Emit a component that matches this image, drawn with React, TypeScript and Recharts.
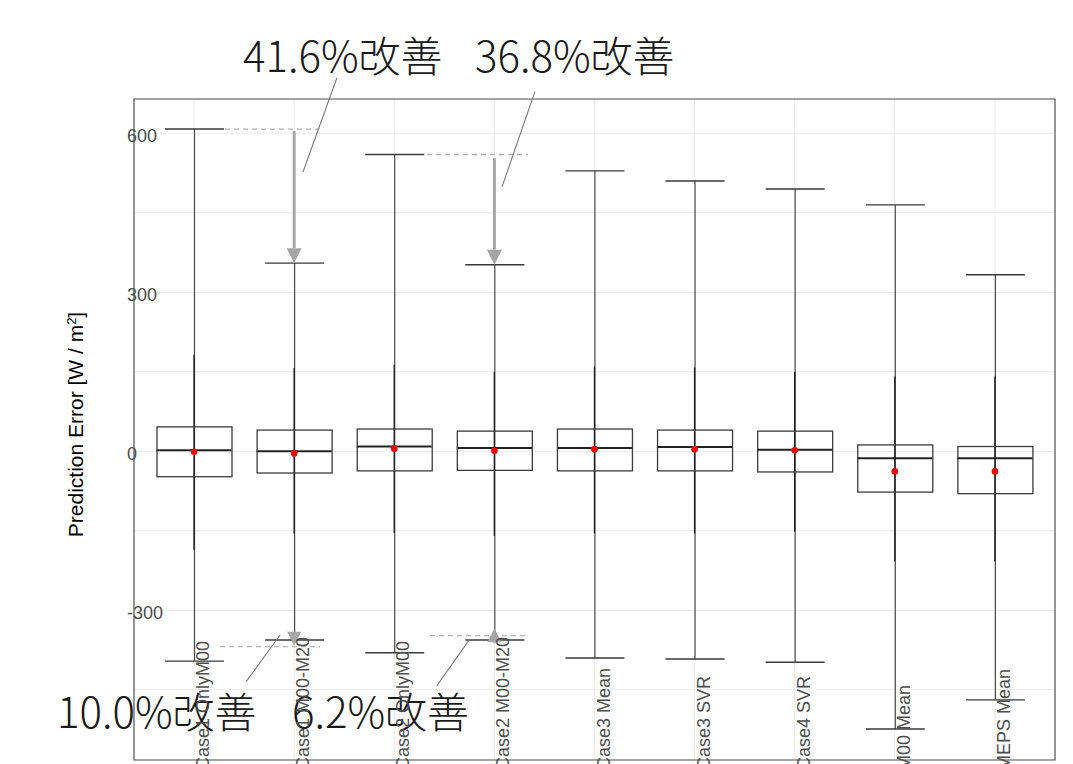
import React from 'react';
import {
  ComposedChart,
  Bar,
  Scatter,
  XAxis,
  YAxis,
  CartesianGrid,
  ReferenceLine,
  ReferenceDot,
  ReferenceArea,
} from 'recharts';

// ---------- data ----------
const categories = [
  'Case1 OnlyM00',
  'Case1 M00-M20',
  'Case2 OnlyM00',
  'Case2 M00-M20',
  'Case3 Mean',
  'Case3 SVR',
  'Case4 SVR',
  'M00 Mean',
  'MEPS Mean',
];
const maxValues = [608, 355, 560, 352, 529, 510, 495, 465, 333];
const minValues = [-396, -356, -380, -356, -390, -392, -398, -524, -469];
const upperWhisker = [182, 157, 163, 150, 160, 158, 150, 141, 141];
const lowerWhisker = [-186, -155, -154, -160, -155, -155, -152, -208, -208];
const q3Values = [46, 40, 42, 38, 42, 40, 38, 12, 9];
const q1Values = [-48, -41, -37, -36, -37, -37, -39, -77, -80];
const medianValues = [2, 0, 9, 6, 6, 8, 3, -13, -13];
const meanValues = [-1, -4, 5, 1, 4, 4, 2, -38, -38];

const yMajorTicks = [-300, 0, 300, 600];
const yMinorTicks = [-450, -150, 150, 450];
const yDomain: [number, number] = [-582.5, 664.7];
const xNumDomain: [number, number] = [0.4, 9.6];

const improvementLabels = ['41.6%改善', '36.8%改善', '10.0%改善', '6.2%改善'];

const data = categories.map((name, i) => ({
  name,
  idx: i + 1,
  min: minValues[i],
  max: maxValues[i],
  wlo: lowerWhisker[i],
  whi: upperWhisker[i],
  q1: q1Values[i],
  q3: q3Values[i],
  median: medianValues[i],
  mean: meanValues[i],
}));

// annotation geometry (in data units of the numeric x axis / y axis)
const textAnnotations = [
  { x: 1.489, y: 715, text: improvementLabels[0] },
  { x: 3.806, y: 715, text: improvementLabels[1] },
  { x: -0.369, y: -522, text: improvementLabels[2] },
  { x: 1.978, y: -522, text: improvementLabels[3] },
];
const dashedLines = [
  { x1: 1.309, x2: 2.238, y: maxValues[0] },
  { x1: 3.327, x2: 4.335, y: maxValues[2] },
  { x1: 1.259, x2: 2.258, y: -368.7 },
  { x1: 3.357, x2: 4.336, y: -348 },
];
const leaderLines = [
  { x1: 2.427, y1: 704.9, x2: 2.088, y2: 527 },
  { x1: 4.405, y1: 678.5, x2: 4.076, y2: 499 },
  { x1: 1.859, y1: -346.6, x2: 1.52, y2: -434.7 },
  { x1: 3.756, y1: -354, x2: 3.424, y2: -442.8 },
];
const arrows = [
  { x: 2, from: maxValues[0] - 4, to: maxValues[1], head: 15 },
  { x: 4, from: 553, to: maxValues[3], head: 15 },
  { x: 2, from: minValues[1], to: -367, head: 14 },
  { x: 4, from: -362, to: -334, head: 14 },
];

// ---------- styles ----------
const SANS = '"Liberation Sans", Arial, Helvetica, sans-serif';
const JP = '"Noto Sans CJK JP", "Noto Sans CJK SC", sans-serif';

// ---------- shapes ----------
const ErrorBarShape = (p: any) => {
  const { x, y, width, height } = p;
  const cx = x + width / 2;
  const top = Math.min(y, y + height);
  const bottom = Math.max(y, y + height);
  return (
    <g>
      <line x1={cx} x2={cx} y1={top} y2={bottom} stroke="#4a4a4a" strokeWidth={1.2} />
      <line x1={x} x2={x + width} y1={top} y2={top} stroke="#3a3a3a" strokeWidth={1.4} />
      <line x1={x} x2={x + width} y1={bottom} y2={bottom} stroke="#3a3a3a" strokeWidth={1.4} />
    </g>
  );
};

const WhiskerShape = (p: any) => {
  const { x, y, width, height } = p;
  const cx = x + width / 2;
  const top = Math.min(y, y + height);
  const bottom = Math.max(y, y + height);
  return <line x1={cx} x2={cx} y1={top} y2={bottom} stroke="#1e1e1e" strokeWidth={1.3} />;
};

const BoxShape = (p: any) => {
  const { x, y, width, height } = p;
  const top = Math.min(y, y + height);
  const h = Math.abs(height);
  return <rect x={x} y={top} width={width} height={h} fill="none" stroke="#3c3c3c" strokeWidth={1.3} />;
};

const MedianShape = (p: any) => {
  const { cx, cy } = p;
  return <line x1={cx - 37.5} x2={cx + 37.5} y1={cy} y2={cy} stroke="#222" strokeWidth={2} />;
};

const MeanShape = (p: any) => {
  const { cx, cy } = p;
  return <circle cx={cx} cy={cy} r={3.3} fill="#ff0000" />;
};

const renderXTick = (p: any) => {
  const { x, payload } = p;
  return (
    <text
      transform={`translate(${x + 15}, 762) rotate(-90)`}
      textAnchor="start"
      fontSize={18}
      fill="#4d4d4d"
      fontFamily={SANS}
    >
      {payload.value}
    </text>
  );
};

const renderYTick = (p: any) => {
  const { y, payload } = p;
  if (!yMajorTicks.includes(payload.value)) return <g />;
  return (
    <text x={119} y={y + 3} dominantBaseline="central" textAnchor="start" fontSize={18} fill="#4d4d4d" fontFamily={SANS}>
      {payload.value}
    </text>
  );
};

const renderYTitle = (p: any) => {
  const vb = p && p.viewBox ? p.viewBox : { y: 91, height: 661 };
  const cy = vb.y + vb.height / 2 - 5;
  return (
    <text transform={`translate(75, ${cy}) rotate(-90)`} textAnchor="middle" fontSize={21} fill="#000" fontFamily={SANS}>
      Prediction Error [W / m
      <tspan baselineShift="super" fontSize={13}>
        2
      </tspan>
      ]
    </text>
  );
};

const arrowShape = (head: number) => (p: any) => {
  const { x1, y1, x2, y2 } = p;
  const dx = x2 - x1;
  const dy = y2 - y1;
  const len = Math.hypot(dx, dy) || 1;
  const ux = dx / len;
  const uy = dy / len;
  const hw = head / 2;
  const bx = x2 - ux * head;
  const by = y2 - uy * head;
  const pts = `${x2},${y2} ${bx - uy * hw},${by + ux * hw} ${bx + uy * hw},${by - ux * hw}`;
  return (
    <g>
      {len > head && <line x1={x1} y1={y1} x2={bx} y2={by} stroke="#a6a6a6" strokeWidth={3} />}
      <polygon points={pts} fill="#a6a6a6" />
    </g>
  );
};

const dashedShape = (p: any) => (
  <line x1={p.x1} y1={p.y1} x2={p.x2} y2={p.y2} stroke="#b3b3b3" strokeWidth={1.3} strokeDasharray="5 4" />
);

const leaderShape = (p: any) => (
  <line x1={p.x1} y1={p.y1} x2={p.x2} y2={p.y2} stroke="#7a7a7a" strokeWidth={1.1} />
);

const makeTextShape = (text: string) => (p: any) => (
  <text x={p.cx} y={p.cy} textAnchor="start" fontSize={42} fontWeight={300} fill="#1a1a1a" fontFamily={JP}>
    {text}
  </text>
);

export default function App() {
  const catAxisProps = {
    type: 'category' as const,
    dataKey: 'name',
    padding: { left: 10, right: 10 },
  };
  return (
    <div style={{ width: 1065, height: 756, background: '#fff' }}>
      <ComposedChart
        width={1065}
        height={756}
        data={data}
        margin={{ top: 91, right: 18, bottom: 3, left: 125 }}
      >
        <XAxis
          xAxisId="b"
          {...catAxisProps}
          height={1}
          axisLine={false}
          tickLine={false}
          interval={0}
          tick={renderXTick}
        />
        <XAxis xAxisId="e" {...catAxisProps} hide />
        <XAxis xAxisId="w" {...catAxisProps} hide />
        <XAxis xAxisId="n" type="number" dataKey="idx" domain={xNumDomain} allowDataOverflow hide />
        <YAxis
          type="number"
          domain={yDomain}
          allowDataOverflow
          ticks={[...yMinorTicks, ...yMajorTicks].sort((a, b) => a - b)}
          width={1}
          axisLine={false}
          tickLine={false}
          tick={renderYTick}
          interval={0}
          label={renderYTitle}
        />
        <CartesianGrid xAxisId="b" stroke="#ebebeb" strokeWidth={1} />

        <Bar
          xAxisId="e"
          dataKey={(d: any) => [d.min, d.max]}
          barSize={59}
          shape={<ErrorBarShape />}
          isAnimationActive={false}
        />
        <Bar
          xAxisId="w"
          dataKey={(d: any) => [d.wlo, d.whi]}
          barSize={10}
          shape={<WhiskerShape />}
          isAnimationActive={false}
        />
        <Bar
          xAxisId="b"
          dataKey={(d: any) => [d.q1, d.q3]}
          barSize={75}
          shape={<BoxShape />}
          isAnimationActive={false}
        />
        <Scatter xAxisId="n" dataKey="median" shape={<MedianShape />} isAnimationActive={false} />
        <Scatter xAxisId="n" dataKey="mean" shape={<MeanShape />} isAnimationActive={false} />

        <ReferenceArea
          xAxisId="n"
          x1={xNumDomain[0]}
          x2={xNumDomain[1]}
          y1={yDomain[0]}
          y2={yDomain[1]}
          fill="none"
          fillOpacity={0}
          stroke="#555"
          strokeWidth={1.2}
          ifOverflow="visible"
        />

        {dashedLines.map((l, i) => (
          <ReferenceLine
            key={`d${i}`}
            xAxisId="n"
            segment={[
              { x: l.x1, y: l.y },
              { x: l.x2, y: l.y },
            ]}
            ifOverflow="visible"
            shape={dashedShape}
          />
        ))}
        {arrows.map((a, i) => (
          <ReferenceLine
            key={`a${i}`}
            xAxisId="n"
            segment={[
              { x: a.x, y: a.from },
              { x: a.x, y: a.to },
            ]}
            ifOverflow="visible"
            shape={arrowShape(a.head)}
          />
        ))}
        {leaderLines.map((l, i) => (
          <ReferenceLine
            key={`l${i}`}
            xAxisId="n"
            segment={[
              { x: l.x1, y: l.y1 },
              { x: l.x2, y: l.y2 },
            ]}
            ifOverflow="visible"
            shape={leaderShape}
          />
        ))}
        {textAnnotations.map((t, i) => (
          <ReferenceDot
            key={`t${i}`}
            xAxisId="n"
            x={t.x}
            y={t.y}
            r={0}
            ifOverflow="visible"
            shape={makeTextShape(t.text)}
          />
        ))}
      </ComposedChart>
    </div>
  );
}
